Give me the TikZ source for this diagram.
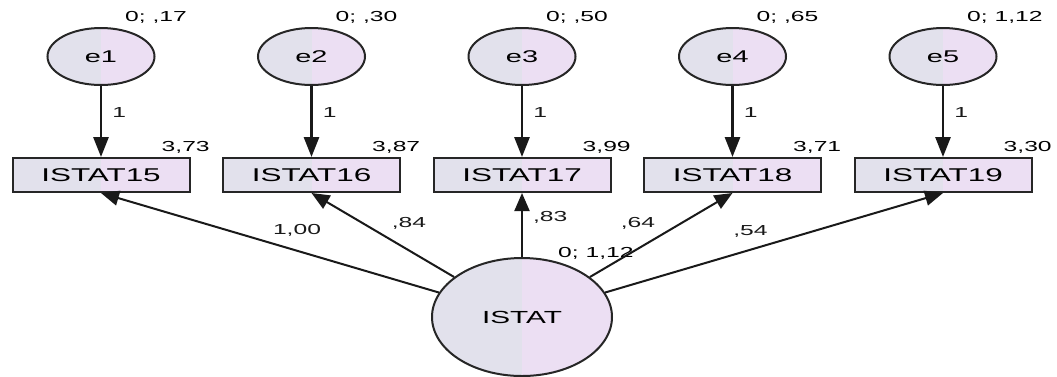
\documentclass[tikz,border=0pt]{standalone}
\usepackage{fontspec}
\setmainfont{Liberation Sans}
\usepackage{graphicx}
\usetikzlibrary{positioning,shapes.geometric,arrows.meta}

\definecolor{fillL}{RGB}{226,225,236}
\definecolor{fillR}{RGB}{236,223,243}

% AMOS output is stretched sideways
\newcommand{\wide}[1]{\scalebox{1.7}[1]{#1}}

\begin{document}
\begin{tikzpicture}[
    x=1pt, y=-1pt,
    % two-tone fill of the AMOS shapes
    twotone/.style={fill=fillL, path picture={\fill[fillR] (path picture bounding box.north) rectangle (path picture bounding box.south east);}},
    obs/.style={rectangle, draw=black!85, line width=2pt, twotone,
                minimum width=177pt, minimum height=34pt, inner sep=0pt,
                font=\fontsize{18.5}{20}\selectfont},
    err/.style={ellipse, draw=black!85, line width=2pt, twotone,
                minimum width=107pt, minimum height=57pt, inner sep=0pt,
                font=\fontsize{17}{19}\selectfont},
    lat/.style={err, minimum width=180pt, minimum height=118pt,
                font=\fontsize{17.5}{19}\selectfont},
    est/.style={font=\fontsize{14.5}{16}\selectfont, inner sep=1pt},
    % arrows
    fixed/.style={-{Triangle[length=20pt,width=15pt]}, line width=2.8pt, black!90},
    load/.style={-{Triangle[length=18pt,width=15pt]}, line width=2pt, black!90},
    node distance=71pt and 31.5pt
]
\useasboundingbox (0,0) rectangle (1057,376);

% Observed items
\node[obs] (i15) at (101,175) {\wide{ISTAT15}};
\node[obs, right=of i15] (i16) {\wide{ISTAT16}};
\node[obs, right=of i16] (i17) {\wide{ISTAT17}};
\node[obs, right=of i17] (i18) {\wide{ISTAT18}};
\node[obs, right=of i18] (i19) {\wide{ISTAT19}};

% Error terms
\node[err, above=of i15] (e1) {\wide{e1}};
\node[err, above=of i16] (e2) {\wide{e2}};
\node[err, above=of i17] (e3) {\wide{e3}};
\node[err, above=of i18] (e4) {\wide{e4}};
\node[err, above=of i19] (e5) {\wide{e5}};

% Latent factor
\node[lat, below=64pt of i17] (istat) {\wide{ISTAT}};

% Means and variances
\node[est, anchor=base west] (v1) at ([xshift=23pt,yshift=6pt]e1.north) {\wide{0; ,17}};
\node[est, anchor=base west] (v2) at ([xshift=23pt,yshift=6pt]e2.north) {\wide{0; ,30}};
\node[est, anchor=base west] (v3) at ([xshift=23pt,yshift=6pt]e3.north) {\wide{0; ,50}};
\node[est, anchor=base west] (v4) at ([xshift=23pt,yshift=6pt]e4.north) {\wide{0; ,65}};
\node[est, anchor=base west] (v5) at ([xshift=23pt,yshift=6pt]e5.north) {\wide{0; 1,12}};
\node[est, anchor=base west] (vf) at ([xshift=35pt]istat.north) {\wide{0; 1,12}};

\node[est, anchor=base west] (m1) at ([xshift=-30pt,yshift=6pt]i15.north east) {\wide{3,73}};
\node[est, anchor=base west] (m2) at ([xshift=-30pt,yshift=6pt]i16.north east) {\wide{3,87}};
\node[est, anchor=base west] (m3) at ([xshift=-30pt,yshift=6pt]i17.north east) {\wide{3,99}};
\node[est, anchor=base west] (m4) at ([xshift=-30pt,yshift=6pt]i18.north east) {\wide{3,71}};
\node[est, anchor=base west] (m5) at ([xshift=-30pt,yshift=6pt]i19.north east) {\wide{3,30}};

% Error paths, fixed to 1
\draw[fixed] (e1) -- (i15) node[est, pos=0.38, right=9pt] (f1) {\wide{1}};
\draw[fixed] (e2) -- (i16) node[est, pos=0.38, right=9pt] (f2) {\wide{1}};
\draw[fixed] (e3) -- (i17) node[est, pos=0.38, right=9pt] (f3) {\wide{1}};
\draw[fixed] (e4) -- (i18) node[est, pos=0.38, right=9pt] (f4) {\wide{1}};
\draw[fixed] (e5) -- (i19) node[est, pos=0.38, right=9pt] (f5) {\wide{1}};

% Factor loadings
\draw[load] (istat) -- (i15.south) node[est, pos=0.42, above=12pt] (w1) {\wide{1,00}};
\draw[load] (istat) -- (i16.south) node[est, pos=0.64, right=27pt] (w2) {\wide{,84}};
\draw[load] (istat) -- (i17.south) node[est, pos=0.62, right=9pt] (w3) {\wide{,83}};
\draw[load] (istat) -- (i18.south) node[est, pos=0.64, left=24pt] (w4) {\wide{,64}};
\draw[load] (istat) -- (i19.south) node[est, pos=0.43, above=10pt] (w5) {\wide{,54}};

\end{tikzpicture}
\end{document}
